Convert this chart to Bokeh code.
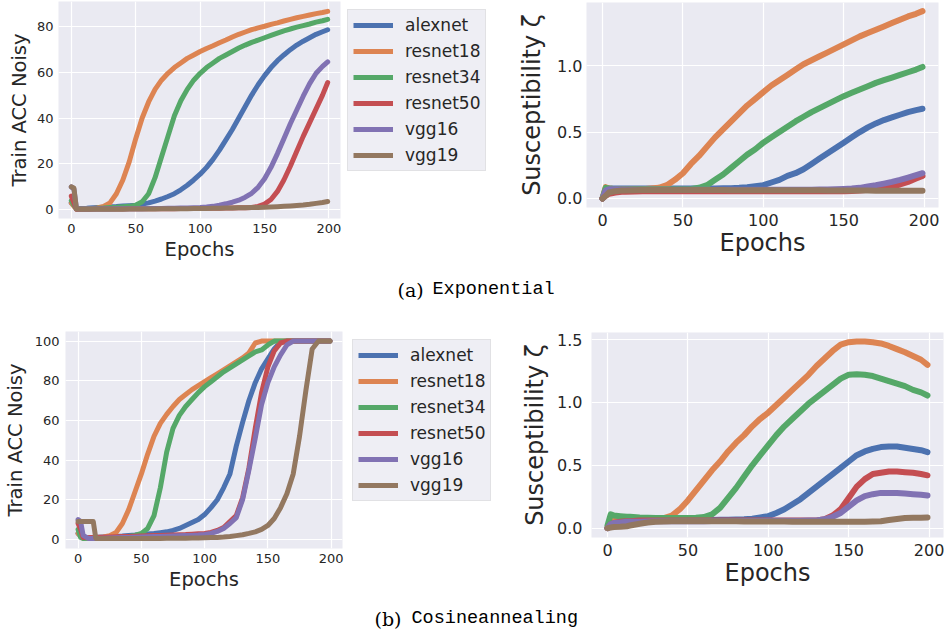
from bokeh.plotting import figure
from bokeh.layouts import column, row
from bokeh.models import Range1d, FixedTicker, PrintfTickFormatter, Legend, LegendItem, Label, Spacer
from bokeh.embed import file_html
from bokeh.resources import INLINE

# ---------------- data ----------------
NAMES = ["alexnet", "resnet18", "resnet34", "resnet50", "vgg16", "vgg19"]
COLORS = ["#4c72b0", "#dd8452", "#55a868", "#c44e52", "#8172b3", "#937860"]
X_TICKS = [0, 50, 100, 150, 200]

EPOCHS = [0, 2, 4, 8, 12, 14,
          20, 25, 30, 35, 40, 45,
          50, 55, 60, 65, 70, 75,
          80, 85, 90, 95, 100, 105,
          110, 115, 120, 125, 130, 135,
          140, 145, 150, 155, 160, 165,
          170, 175, 180, 185, 190, 195,
          199]

# (a) Exponential - Train ACC Noisy
exp_acc_alexnet = [3, 2, 0.5, 0.6, 0.7, 0.8,
                   1.0, 1.1, 1.3, 1.4, 1.6, 1.8,
                   2.0, 2.5, 3.0, 3.8, 4.7, 5.8,
                   7.0, 8.7, 10.7, 13.0, 15.5, 18.5,
                   22, 26, 30.5, 35, 40, 45,
                   50, 54.5, 58.5, 62, 65, 67.5,
                   69.8, 71.8, 73.5, 75, 76.5, 77.6,
                   78.5]
exp_acc_resnet18 = [3, 1.5, 0.3, 0.3, 0.4, 0.4,
                    0.8, 1.5, 3, 7, 13, 21,
                    31, 40, 47, 52.5, 56.5, 59.5,
                    62, 64, 66, 67.5, 69, 70.3,
                    71.5, 72.8, 74, 75.3, 76.5, 77.5,
                    78.5, 79.3, 80, 80.8, 81.5, 82.3,
                    83, 83.7, 84.3, 84.9, 85.5, 86,
                    86.5]
exp_acc_resnet34 = [4, 2, 0.3, 0.4, 0.5, 0.5,
                    0.7, 0.8, 1.0, 1.1, 1.3, 1.5,
                    2, 3.5, 7, 14, 23, 32,
                    41, 47.5, 52.5, 56.5, 59.5, 62,
                    64, 66, 67.5, 69, 70.5, 71.8,
                    73, 74, 75, 76, 77, 78,
                    78.8, 79.6, 80.3, 81, 81.8, 82.4,
                    83]
exp_acc_resnet50 = [6, 3, 0.2, 0.2, 0.2, 0.2,
                    0.3, 0.3, 0.3, 0.35, 0.35, 0.4,
                    0.4, 0.4, 0.45, 0.45, 0.5, 0.5,
                    0.5, 0.55, 0.55, 0.6, 0.6, 0.65,
                    0.7, 0.7, 0.75, 0.8, 0.85, 0.9,
                    1.0, 1.5, 2.5, 4.5, 8, 13,
                    19, 25.5, 32, 38, 44, 50,
                    55.5]
exp_acc_vgg16 = [10, 9, 0.5, 0.3, 0.3, 0.3,
                 0.3, 0.35, 0.35, 0.4, 0.4, 0.45,
                 0.5, 0.5, 0.55, 0.6, 0.6, 0.65,
                 0.7, 0.75, 0.8, 0.9, 1.0, 1.2,
                 1.5, 2.0, 2.6, 3.3, 4.2, 5.5,
                 7.2, 9.8, 13.5, 18.5, 24.5, 31,
                 37.5, 43.5, 49.5, 55, 59.5, 62.5,
                 64.5]
exp_acc_vgg19 = [10, 9.5, 0.3, 0.2, 0.2, 0.2,
                 0.2, 0.2, 0.25, 0.25, 0.25, 0.3,
                 0.3, 0.3, 0.35, 0.35, 0.4, 0.4,
                 0.45, 0.45, 0.5, 0.55, 0.6, 0.6,
                 0.65, 0.7, 0.75, 0.8, 0.85, 0.9,
                 0.95, 1.0, 1.1, 1.2, 1.35, 1.5,
                 1.7, 1.9, 2.1, 2.4, 2.8, 3.2,
                 3.6]

# (a) Exponential - Susceptibility
exp_sus_alexnet = [0.0, 0.07, 0.075, 0.075, 0.075, 0.075,
                   0.075, 0.075, 0.075, 0.075, 0.075, 0.075,
                   0.075, 0.075, 0.075, 0.075, 0.075, 0.076,
                   0.077, 0.08, 0.085, 0.092, 0.1, 0.12,
                   0.14, 0.17, 0.19, 0.22, 0.26, 0.3,
                   0.34, 0.38, 0.42, 0.46, 0.5, 0.535,
                   0.565, 0.59, 0.61, 0.63, 0.65, 0.665,
                   0.675]
exp_sus_resnet18 = [0.0, 0.085, 0.075, 0.07, 0.07, 0.07,
                    0.07, 0.07, 0.075, 0.08, 0.1, 0.14,
                    0.19, 0.26, 0.32, 0.39, 0.46, 0.52,
                    0.58, 0.64, 0.7, 0.75, 0.8, 0.85,
                    0.89, 0.93, 0.97, 1.01, 1.04, 1.07,
                    1.1, 1.13, 1.16, 1.19, 1.22, 1.245,
                    1.27, 1.295, 1.32, 1.345, 1.37, 1.39,
                    1.41]
exp_sus_resnet34 = [0.0, 0.08, 0.075, 0.07, 0.07, 0.07,
                    0.07, 0.07, 0.07, 0.07, 0.07, 0.07,
                    0.07, 0.072, 0.08, 0.1, 0.14, 0.18,
                    0.23, 0.28, 0.33, 0.37, 0.42, 0.46,
                    0.5, 0.54, 0.58, 0.615, 0.65, 0.68,
                    0.71, 0.74, 0.77, 0.795, 0.82, 0.845,
                    0.87, 0.89, 0.91, 0.93, 0.95, 0.97,
                    0.99]
exp_sus_resnet50 = [0.0, 0.02, 0.035, 0.045, 0.05, 0.05,
                    0.052, 0.054, 0.055, 0.055, 0.055, 0.055,
                    0.055, 0.055, 0.055, 0.055, 0.055, 0.055,
                    0.055, 0.055, 0.055, 0.055, 0.055, 0.055,
                    0.055, 0.055, 0.055, 0.055, 0.055, 0.055,
                    0.055, 0.055, 0.055, 0.057, 0.06, 0.065,
                    0.07, 0.08, 0.09, 0.105, 0.125, 0.15,
                    0.17]
exp_sus_vgg16 = [0.0, 0.06, 0.07, 0.07, 0.068, 0.068,
                 0.066, 0.066, 0.065, 0.065, 0.065, 0.065,
                 0.065, 0.065, 0.065, 0.065, 0.065, 0.065,
                 0.065, 0.065, 0.065, 0.065, 0.065, 0.065,
                 0.065, 0.065, 0.065, 0.066, 0.066, 0.067,
                 0.068, 0.07, 0.072, 0.075, 0.08, 0.09,
                 0.1, 0.112, 0.125, 0.14, 0.157, 0.175,
                 0.19]
exp_sus_vgg19 = [0.0, 0.02, 0.045, 0.055, 0.06, 0.06,
                 0.062, 0.063, 0.063, 0.063, 0.063, 0.063,
                 0.063, 0.063, 0.063, 0.063, 0.063, 0.063,
                 0.062, 0.062, 0.062, 0.062, 0.062, 0.062,
                 0.061, 0.061, 0.061, 0.061, 0.061, 0.061,
                 0.06, 0.06, 0.06, 0.06, 0.06, 0.06,
                 0.059, 0.059, 0.059, 0.059, 0.059, 0.059,
                 0.058]

# (b) Cosineannealing - Train ACC Noisy
cos_acc_alexnet = [3, 2, 1, 1, 1, 1.1,
                   1.2, 1.3, 1.5, 1.7, 2, 2.2,
                   2.5, 2.7, 3, 3.4, 3.8, 4.5,
                   5.5, 7, 8.5, 10, 12.5, 16,
                   20, 26, 33, 47, 59, 70,
                   79, 86, 91, 96, 99.5, 100,
                   100, 100, 100, 100, 100, 100,
                   100]
cos_acc_resnet18 = [3, 1.5, 0.5, 0.6, 0.8, 0.9,
                    1.2, 1.8, 3.5, 8, 15, 24,
                    33, 43, 52, 58.5, 63, 67,
                    70.5, 73, 75.5, 77.5, 79.5, 81.5,
                    83.5, 85.5, 87.5, 89.5, 91.5, 94,
                    99, 100, 100, 100, 100, 100,
                    100, 100, 100, 100, 100, 100,
                    100]
cos_acc_resnet34 = [5, 1, 0.5, 0.6, 0.7, 0.7,
                    0.8, 0.9, 1.0, 1.2, 1.5, 2,
                    3, 5.5, 12, 26, 44, 56,
                    62.5, 67, 70.5, 74, 77, 79.5,
                    82, 84.5, 86.5, 88.5, 90.5, 92.5,
                    94.5, 95.5, 98, 100, 100, 100,
                    100, 100, 100, 100, 100, 100,
                    100]
cos_acc_resnet50 = [8, 5, 1, 1, 1, 1,
                    1.1, 1.2, 1.3, 1.4, 1.5, 1.6,
                    1.7, 1.8, 1.9, 2, 2.1, 2.2,
                    2.3, 2.4, 2.6, 2.8, 3, 3.5,
                    4.5, 6, 9, 12, 21, 36,
                    56, 74, 87, 95, 99, 100,
                    100, 100, 100, 100, 100, 100,
                    100]
cos_acc_vgg16 = [10, 9, 2, 0.5, 0.5, 0.5,
                 0.6, 0.7, 0.8, 0.9, 1.0, 1.1,
                 1.2, 1.3, 1.4, 1.5, 1.6, 1.7,
                 1.8, 1.9, 2.0, 2.2, 2.5, 3,
                 4, 5.5, 8, 11, 20, 35,
                 51, 68, 79, 87, 93, 98,
                 100, 100, 100, 100, 100, 100,
                 100]
cos_acc_vgg19 = [9, 9, 9, 9, 9, 0.5,
                 0.4, 0.4, 0.4, 0.4, 0.4, 0.45,
                 0.45, 0.5, 0.5, 0.5, 0.55, 0.55,
                 0.6, 0.6, 0.65, 0.7, 0.8, 0.9,
                 1.0, 1.2, 1.5, 1.9, 2.3, 3,
                 3.8, 5, 7, 10.5, 16, 23,
                 33, 52, 75, 96, 100, 100,
                 100]

# (b) Cosineannealing - Susceptibility
cos_sus_alexnet = [0.0, 0.04, 0.05, 0.055, 0.06, 0.06,
                   0.062, 0.064, 0.065, 0.065, 0.065, 0.065,
                   0.065, 0.065, 0.065, 0.065, 0.066, 0.067,
                   0.068, 0.07, 0.075, 0.085, 0.095, 0.12,
                   0.15, 0.19, 0.23, 0.28, 0.33, 0.38,
                   0.43, 0.48, 0.53, 0.58, 0.61, 0.63,
                   0.645, 0.65, 0.65, 0.64, 0.63, 0.62,
                   0.605]
cos_sus_resnet18 = [0.0, 0.06, 0.06, 0.06, 0.06, 0.062,
                    0.065, 0.067, 0.07, 0.08, 0.1, 0.15,
                    0.22, 0.3, 0.38, 0.46, 0.53, 0.61,
                    0.68, 0.74, 0.81, 0.87, 0.92, 0.98,
                    1.04, 1.1, 1.16, 1.22, 1.29, 1.35,
                    1.41, 1.46, 1.48, 1.485, 1.485, 1.48,
                    1.47, 1.45, 1.425, 1.4, 1.37, 1.34,
                    1.3]
cos_sus_resnet34 = [0.02, 0.11, 0.1, 0.095, 0.09, 0.09,
                    0.085, 0.083, 0.08, 0.08, 0.08, 0.08,
                    0.08, 0.082, 0.088, 0.11, 0.16, 0.24,
                    0.32, 0.41, 0.5, 0.58, 0.66, 0.74,
                    0.81, 0.87, 0.93, 0.99, 1.04, 1.09,
                    1.14, 1.19, 1.22, 1.225, 1.22, 1.21,
                    1.19, 1.17, 1.15, 1.13, 1.1, 1.08,
                    1.055]
cos_sus_resnet50 = [0.0, 0.03, 0.04, 0.05, 0.055, 0.055,
                    0.06, 0.06, 0.06, 0.06, 0.06, 0.06,
                    0.06, 0.06, 0.06, 0.06, 0.06, 0.06,
                    0.06, 0.06, 0.06, 0.06, 0.06, 0.06,
                    0.06, 0.06, 0.06, 0.06, 0.06, 0.07,
                    0.1, 0.15, 0.24, 0.33, 0.39, 0.43,
                    0.44, 0.45, 0.45, 0.445, 0.44, 0.43,
                    0.42]
cos_sus_vgg16 = [0.0, 0.03, 0.04, 0.045, 0.05, 0.05,
                 0.05, 0.052, 0.054, 0.055, 0.055, 0.055,
                 0.055, 0.055, 0.055, 0.056, 0.056, 0.056,
                 0.057, 0.057, 0.057, 0.057, 0.058, 0.058,
                 0.058, 0.058, 0.059, 0.06, 0.06, 0.07,
                 0.09, 0.12, 0.17, 0.22, 0.255, 0.27,
                 0.28, 0.28, 0.28, 0.275, 0.27, 0.265,
                 0.26]
cos_sus_vgg19 = [0.0, 0.005, 0.008, 0.01, 0.015, 0.02,
                 0.035, 0.045, 0.05, 0.052, 0.055, 0.055,
                 0.055, 0.055, 0.055, 0.055, 0.054, 0.054,
                 0.054, 0.053, 0.053, 0.053, 0.052, 0.052,
                 0.052, 0.051, 0.051, 0.051, 0.05, 0.05,
                 0.05, 0.05, 0.05, 0.05, 0.05, 0.052,
                 0.055, 0.065, 0.073, 0.08, 0.082, 0.083,
                 0.085]

EXP_ACC = [exp_acc_alexnet, exp_acc_resnet18, exp_acc_resnet34, exp_acc_resnet50, exp_acc_vgg16, exp_acc_vgg19]
EXP_SUS = [exp_sus_alexnet, exp_sus_resnet18, exp_sus_resnet34, exp_sus_resnet50, exp_sus_vgg16, exp_sus_vgg19]
COS_ACC = [cos_acc_alexnet, cos_acc_resnet18, cos_acc_resnet34, cos_acc_resnet50, cos_acc_vgg16, cos_acc_vgg19]
COS_SUS = [cos_sus_alexnet, cos_sus_resnet18, cos_sus_resnet34, cos_sus_resnet50, cos_sus_vgg16, cos_sus_vgg19]

# ---------------- styling ----------------
TEXT = "#262626"
BG = "#eaeaf2"
FONT = "DejaVu Sans"


def panel(width, height, borders, yr, yticks, yfmt, ylabel, series, tick_px, xlab_px, ylab_px,
          lw, x_std, y_std, xlab_std, ylab_std):
    left, right, top, bottom = borders
    p = figure(width=width, height=height, x_range=Range1d(-9.95, 208.95), y_range=Range1d(*yr),
               output_backend="svg", toolbar_location=None,
               min_border_left=left, min_border_right=right,
               min_border_top=top, min_border_bottom=bottom)
    p.background_fill_color = BG
    p.border_fill_color = "white"
    p.outline_line_color = None
    p.xaxis.ticker = FixedTicker(ticks=X_TICKS)
    p.yaxis.ticker = FixedTicker(ticks=yticks)
    if yfmt:
        p.yaxis.formatter = PrintfTickFormatter(format=yfmt)
    p.grid.grid_line_color = "white"
    p.grid.grid_line_width = 1.2
    for ax in list(p.xaxis) + list(p.yaxis):
        ax.axis_line_color = None
        ax.major_tick_line_color = None
        ax.minor_tick_line_color = None
        ax.major_tick_out = 0
        ax.major_tick_in = 0
        ax.minor_tick_out = 0
        ax.major_label_text_font = FONT
        ax.major_label_text_font_size = f"{tick_px}px"
        ax.major_label_text_color = TEXT
        ax.axis_label_text_font = FONT
        ax.axis_label_text_font_style = "normal"
        ax.axis_label_text_color = TEXT
    p.xaxis.axis_label = "Epochs"
    p.xaxis.axis_label_text_font_size = f"{xlab_px}px"
    p.xaxis.major_label_standoff = x_std
    p.xaxis.axis_label_standoff = xlab_std
    p.yaxis.axis_label = ylabel
    p.yaxis.axis_label_text_font_size = f"{ylab_px}px"
    p.yaxis.major_label_standoff = y_std
    p.yaxis.axis_label_standoff = ylab_std
    for vals, col in zip(series, COLORS):
        p.line(EPOCHS, vals, line_color=col, line_width=lw, line_cap="round", line_join="round")
    return p


def legend_fig(width, height, series):
    # legend-only canvas: the series are drawn outside its visible range
    lf = figure(width=width, height=height, x_range=Range1d(-1000, -999), y_range=Range1d(-1000, -999),
                output_backend="svg", toolbar_location=None,
                x_axis_type=None, y_axis_type=None, min_border=0)
    lf.outline_line_color = None
    lf.background_fill_color = "white"
    lf.border_fill_color = "white"
    lf.grid.visible = False
    items = []
    for n, vals, col in zip(NAMES, series, COLORS):
        r = lf.line(EPOCHS, vals, line_color=col, line_width=5)
        items.append(LegendItem(label=n, renderers=[r]))
    leg = Legend(items=items, location="top_left", margin=0, padding=5, spacing=6,
                 glyph_width=40, glyph_height=20, label_height=20, label_standoff=12,
                 label_text_font=FONT, label_text_font_size="17px", label_text_color=TEXT,
                 background_fill_color="#eeeef4", background_fill_alpha=1.0,
                 border_line_color="#d4d4d4", border_line_width=1)
    lf.add_layout(leg)
    return lf


def caption(width, h, base_from_bottom, tag, tag_x, name, name_x):
    c = figure(width=width, height=h, x_range=Range1d(0, width), y_range=Range1d(0, h),
               output_backend="svg", toolbar_location=None,
               x_axis_type=None, y_axis_type=None, min_border=0)
    c.outline_line_color = None
    c.border_fill_color = "white"
    c.background_fill_color = "white"
    c.add_layout(Label(x=tag_x, y=base_from_bottom, text=tag, text_font="DejaVu Serif",
                       text_font_size="19px", text_color="black", text_baseline="alphabetic"))
    c.add_layout(Label(x=name_x, y=base_from_bottom, text=name, text_font="Liberation Mono",
                       text_font_size="18.5px", text_color="black", text_baseline="alphabetic"))
    return c


# ---- row (a) ----
tl = panel(344, 290, (58, 4, 1, 72), (-3.8, 90.8), [0, 20, 40, 60, 80], None,
           "Train ACC Noisy", EXP_ACC, 13, 19.5, 19.5, 5, 5, 5, 2, 3)
leg_a = legend_fig(153, 256, EXP_ACC)
tr = panel(447, 265, (86, 9, 2, 58), (-0.068, 1.475), [0, 0.5, 1.0], "%.1f",
           "Susceptibility ζ", EXP_SUS, 16, 24, 24, 6, 6, 4, 0, 8)
cap_a = caption(603, 35, 11, "(a)", 397 - 344, "Exponential", 432 - 344)
right_a = column(row(Spacer(width=3, height=265), column(Spacer(width=153, height=9), leg_a, spacing=0),
                     tr, spacing=0),
                 cap_a, spacing=0)
row_a = row(tl, right_a, spacing=0)

# ---- row (b) ----
bl = panel(346, 320, (63, 4, 31, 72), (-4.6, 104.8), [0, 20, 40, 60, 80, 100], None,
           "Train ACC Noisy", COS_ACC, 13, 19.5, 19.5, 5, 5, 6, 2, 5)
leg_b = legend_fig(148, 261, COS_ACC)
br = panel(447, 300, (91, 4, 32, 63), (-0.075, 1.557), [0, 0.5, 1.0, 1.5], "%.1f",
           "Susceptibility ζ", COS_SUS, 16, 24, 24, 6, 6, 9, 0, 5)
cap_b = caption(601, 32, 14, "(b)", 374 - 346, "Cosineannealing", 411 - 346)
right_b = column(row(Spacer(width=6, height=300), column(Spacer(width=148, height=39), leg_b, spacing=0),
                     br, spacing=0),
                 cap_b, spacing=0)
row_b = row(bl, right_b, spacing=0)

layout = column(row_a, row_b, spacing=0)

open("out.html", "w").write(file_html(layout, INLINE))
